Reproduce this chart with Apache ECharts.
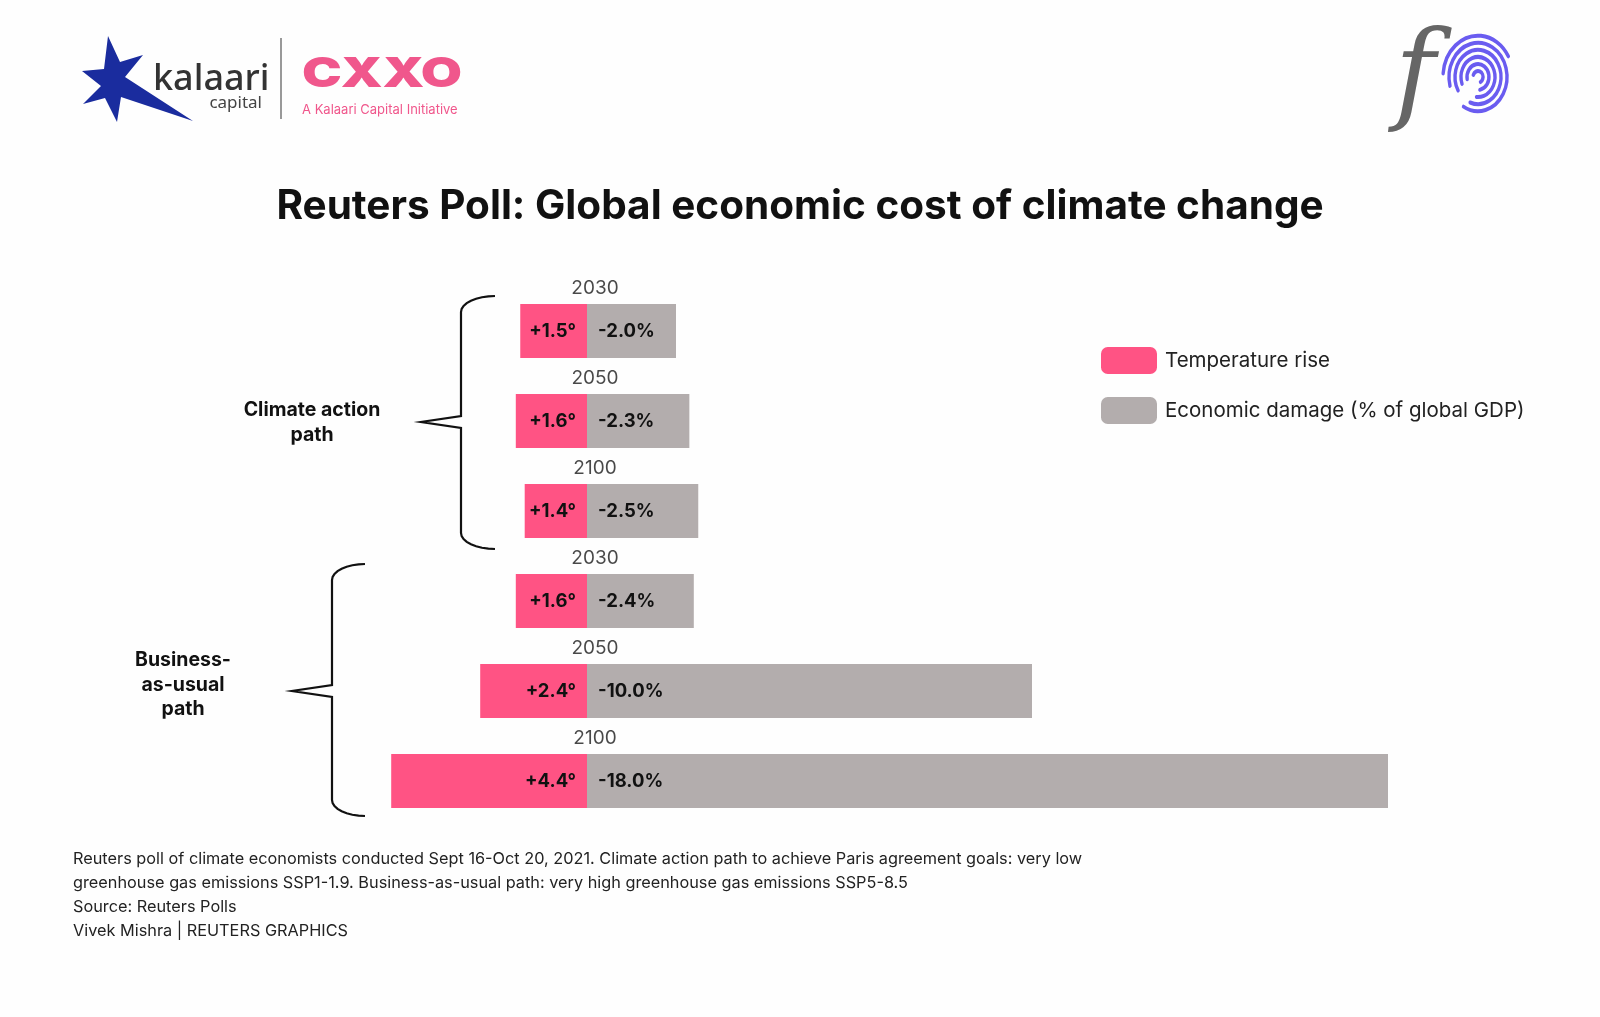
<!DOCTYPE html>
<html style="height: 100%">
<head>
    <meta charset="utf-8">
    <script src="https://cdn.jsdelivr.net/npm/echarts@6/dist/echarts.min.js"></script>
    <title>Reuters Poll: Global economic cost of climate change</title>
</head>
<body style="height: 100%; margin: 0; background: #fefefe">
<div id="container" style="width: 1600px; height: 1017px"></div>
<script type="text/javascript">
// values
let groups = ['Climate action', 'Climate action', 'Climate action', 'Business-as-usual', 'Business-as-usual', 'Business-as-usual']
let years = ['2030', '2050', '2100', '2030', '2050', '2100']
let tempRise = [1.5, 1.6, 1.4, 1.6, 2.4, 4.4]      // degrees C
let gdpDamage = [2.0, 2.3, 2.5, 2.4, 10.0, 18.0]   // % of global GDP (loss)
let seriesNames = ['Temperature rise', 'Economic damage (% of global GDP)']

let categories = groups.map((g, i) => g + ' ' + years[i])

let PINK = '#ff5384'
let GREY = '#b3adad'
let FONT = 'Inter'

let chart = echarts.init(document.getElementById('container'))

chart.setOption({
    backgroundColor: '#fefefe',
    textStyle: { fontFamily: FONT },
    animation: false,
    title: {
        text: 'Reuters Poll: Global economic cost of climate change',
        left: 'center',
        top: 184,
        padding: 0,
        textStyle: { fontSize: 40.5, fontWeight: 'bold', color: '#111', lineHeight: 46, fontFamily: FONT }
    },
    legend: {
        data: seriesNames,
        orient: 'vertical',
        left: 1101,
        top: 347,
        padding: 0,
        itemWidth: 56,
        itemHeight: 27,
        itemGap: 23,
        icon: 'roundRect',
        selectedMode: false,
        textStyle: { fontSize: 20.5, color: '#222', padding: [0, 0, 0, 3] }
    },
    grid: { left: 320, width: 1157, top: 286, height: 540 },
    xAxis: {
        type: 'value',
        min: -6,
        max: 20,
        show: false
    },
    yAxis: {
        type: 'category',
        data: categories,
        inverse: true,
        show: false
    },
    series: [
        {
            name: seriesNames[0],
            type: 'bar',
            stack: 'row',
            barWidth: 54,
            data: tempRise.map(v => -v),
            itemStyle: { color: PINK },
            label: {
                show: true,
                position: 'insideRight',
                distance: 11,
                fontSize: 18.5,
                fontWeight: 'bold',
                color: '#111',
                formatter: p => '+' + tempRise[p.dataIndex].toFixed(1) + '°'
            }
        },
        {
            name: seriesNames[1],
            type: 'bar',
            stack: 'row',
            barWidth: 54,
            data: gdpDamage,
            itemStyle: { color: GREY },
            label: {
                show: true,
                position: 'insideLeft',
                distance: 11,
                fontSize: 18.5,
                fontWeight: 'bold',
                color: '#111',
                formatter: p => '-' + gdpDamage[p.dataIndex].toFixed(1) + '%'
            }
        },
        {
            // year tags above each bar pair
            type: 'scatter',
            silent: true,
            symbolSize: 1,
            itemStyle: { color: 'transparent' },
            data: years.map((y, i) => [0.18, i]),
            label: {
                show: true,
                position: 'inside',
                offset: [0, -43],
                fontSize: 19,
                color: '#1a1a1a',
                formatter: p => years[p.dataIndex]
            }
        }
    ]
})

// braces next to each group, placed from the category axis
function bracePoints(vx, hx, tx, top, tipY, bottom) {
    let r = 16, pts = [], k
    // top corner (quarter curve from hook end down into the spine)
    for (k = 0; k <= 8; k++) {
        let a = Math.PI / 2 * k / 8
        pts.push([vx + (hx - vx) * (1 - Math.sin(a)) * (k === 0 ? 1 : 1), top + r * (1 - Math.cos(a))])
    }
    pts[0] = [hx, top]
    pts.push([vx, tipY - 6], [tx, tipY], [vx, tipY + 6])
    for (k = 8; k >= 0; k--) {
        let a = Math.PI / 2 * k / 8
        pts.push([vx + (hx - vx) * (1 - Math.sin(a)), bottom - r * (1 - Math.cos(a))])
    }
    return pts
}
let rowY = categories.map((c, i) => chart.convertToPixel({ yAxisIndex: 0 }, i))

let braceStyle = { stroke: '#111', lineWidth: 2.2, fill: null }
let braces = [
    { type: 'polyline', shape: { points: bracePoints(461, 495, 421, rowY[0] - 35, rowY[1] + 1, rowY[2] + 38), smooth: 0 }, style: braceStyle },
    { type: 'polyline', shape: { points: bracePoints(332, 365, 292, rowY[3] - 37, rowY[4], rowY[5] + 35), smooth: 0 }, style: braceStyle },
    {
        type: 'text',
        style: { text: 'Climate action\npath', x: 312, y: rowY[1] + 2, align: 'center', verticalAlign: 'middle',
            font: 'bold 19.5px ' + FONT, fill: '#111', lineHeight: 25 }
    },
    {
        type: 'text',
        style: { text: 'Business-\nas-usual\npath', x: 183, y: rowY[4] - 6, align: 'center', verticalAlign: 'middle',
            font: 'bold 19.5px ' + FONT, fill: '#111', lineHeight: 24.5 }
    }
]

// fingerprint mark: open loops
let fingerprint = []
let fpRings = [[5, 200, 420], [11, 170, 440], [17, 160, 455], [23, 150, 470], [29, 165, 480], [35, 185, 330]]
fpRings.forEach(f => {
    fingerprint.push({
        type: 'arc',
        shape: { cx: 0, cy: 0, r: f[0], startAngle: f[1] * Math.PI / 180, endAngle: f[2] * Math.PI / 180 },
        style: { stroke: '#6a5cf0', lineWidth: 3.4, fill: null, lineCap: 'round' }
    })
})

let decor = [
    {
        type: 'polygon',
        shape: { points: [[108, 36], [120, 62], [143, 55], [125, 77], [193, 121], [121, 97], [117, 122], [105, 98], [83, 104], [101, 86], [82, 71], [104, 69]] },
        style: { fill: '#1a2c9e' }
    },
    { type: 'text', style: { text: 'kalaari', x: 153, y: 80, verticalAlign: 'middle', font: '500 36px "Noto Sans"', fill: '#333' } },
    { type: 'text', style: { text: 'capital', x: 262, y: 103, align: 'right', verticalAlign: 'middle', font: '17px "Noto Sans"', fill: '#444' } },
    { type: 'line', shape: { x1: 281, y1: 38, x2: 281, y2: 119 }, style: { stroke: '#777', lineWidth: 1.5 } },
    { type: 'text', x: 302, style: { text: 'CXXO', x: 0, y: 75, verticalAlign: 'middle', font: '900 41px ' + FONT, fill: '#f0578c' }, scaleX: 1.3 },
    { type: 'text', style: { text: 'A Kalaari Capital Initiative', x: 302, y: 110, verticalAlign: 'middle', font: '13px ' + FONT, fill: '#f0578c' } },
    { type: 'text', style: { text: 'f', x: 1415, y: 25, align: 'center', verticalAlign: 'top', font: 'italic 110px "DejaVu Serif"', fill: '#666' } },
    { type: 'group', x: 1478, y: 77, scaleY: 1.18, children: fingerprint },
    {
        type: 'text',
        style: {
            text: 'Reuters poll of climate economists conducted Sept 16-Oct 20, 2021. Climate action path to achieve Paris agreement goals: very low\n' +
                'greenhouse gas emissions SSP1-1.9. Business-as-usual path: very high greenhouse gas emissions SSP5-8.5\n' +
                'Source: Reuters Polls\n' +
                'Vivek Mishra | REUTERS GRAPHICS',
            x: 73, y: 847, font: '16.3px ' + FONT, fill: '#222', lineHeight: 24
        }
    }
]

chart.setOption({ graphic: { elements: decor.concat(braces) } })
</script>
</body>
</html>
